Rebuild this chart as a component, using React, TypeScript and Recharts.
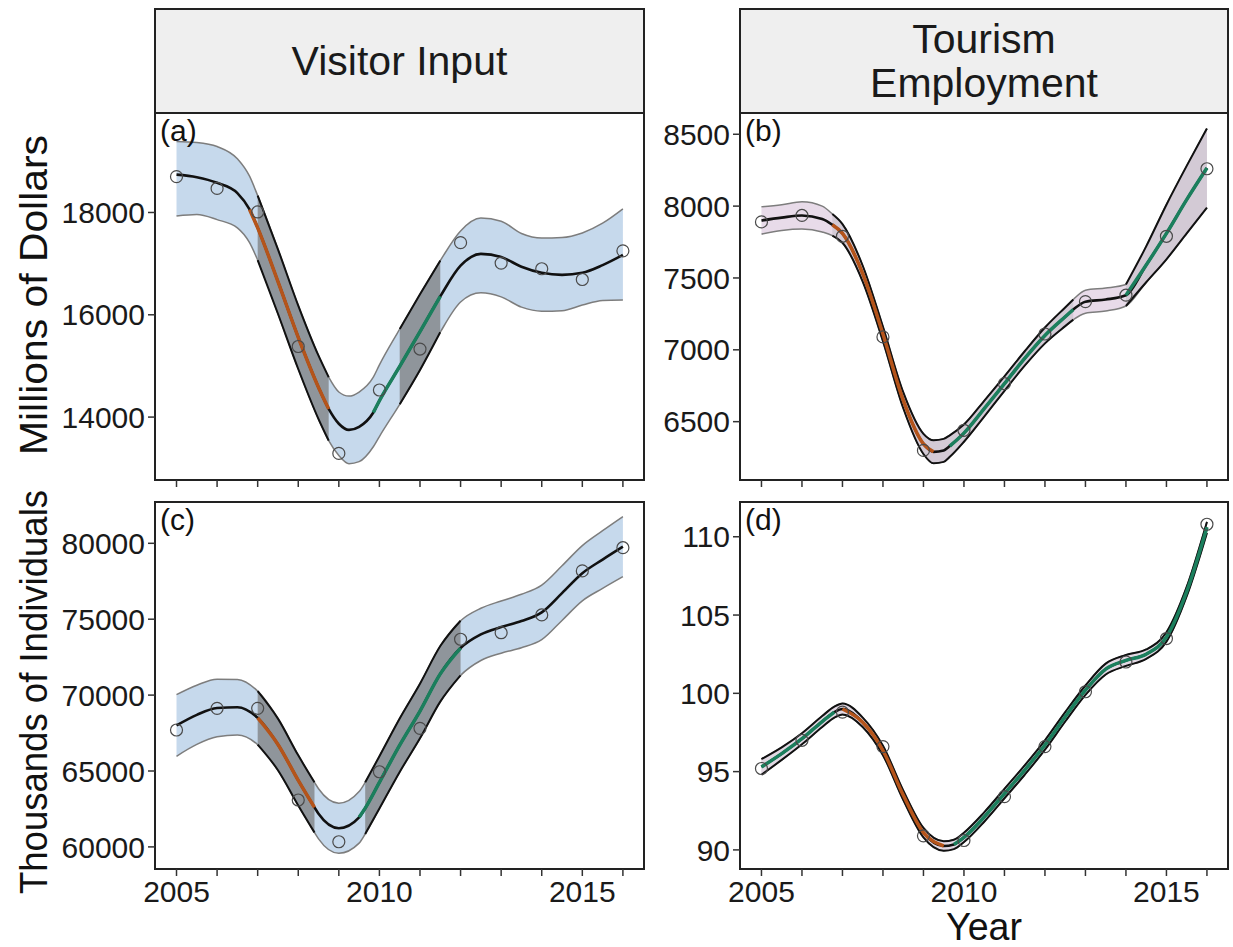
import { ComposedChart, Area, Line, Scatter, XAxis, YAxis, ReferenceArea } from 'recharts';

const FONT = '"Liberation Sans", Arial, Helvetica, sans-serif';

const YEARS = [2005, 2006, 2007, 2008, 2009, 2010, 2011, 2012, 2013, 2014, 2015, 2016];
const YEAR_LABELS = [2005, 2010, 2015];
const X_DOMAIN: [number, number] = [2004.47, 2016.52];

// (a) Visitor Input, millions of dollars
const aX = [2005, 2005.5, 2006, 2006.5, 2006.8, 2007, 2007.5, 2008, 2008.5, 2008.75, 2009, 2009.25, 2009.5, 2009.85, 2010, 2010.5, 2011, 2011.5, 2012, 2012.5, 2013, 2013.5, 2014, 2014.5, 2015, 2015.5, 2016];
const aFit = [18740, 18690, 18580, 18380, 18060, 17700, 16650, 15560, 14580, 14160, 13870, 13750, 13810, 14090, 14320, 14990, 15670, 16360, 16960, 17190, 17130, 16940, 16820, 16780, 16820, 16970, 17170];
const aLo = [17930, 17960, 17860, 17700, 17410, 17070, 16020, 14940, 13960, 13540, 13250, 13090, 13130, 13420, 13620, 14250, 14920, 15660, 16250, 16430, 16350, 16150, 16070, 16080, 16190, 16280, 16290];
const aHi = [19390, 19370, 19290, 19050, 18710, 18330, 17280, 16180, 15200, 14780, 14490, 14410, 14490, 14780, 15020, 15720, 16400, 17060, 17640, 17890, 17830, 17590, 17500, 17510, 17600, 17790, 18070];
const aObs = [18700, 18470, 18010, 15380, 13290, 14530, 15330, 17410, 17010, 16900, 16690, 17250];

// (b) Tourism Employment, millions of dollars
const bX = [2005, 2005.5, 2006, 2006.5, 2006.75, 2007, 2007.5, 2008, 2008.5, 2009, 2009.25, 2009.5, 2009.65, 2010, 2010.5, 2011, 2011.5, 2012, 2012.5, 2012.7, 2013, 2013.5, 2014, 2014.5, 2015, 2015.5, 2016];
const bFit = [7900, 7920, 7935, 7910, 7870, 7810, 7530, 7110, 6650, 6345, 6290, 6300, 6330, 6420, 6590, 6765, 6940, 7100, 7230, 7280, 7335, 7350, 7380, 7590, 7810, 8045, 8265];
const bLo = [7805, 7830, 7840, 7820, 7795, 7745, 7475, 7060, 6595, 6275, 6210, 6220, 6255, 6360, 6535, 6715, 6890, 7045, 7165, 7210, 7255, 7270, 7305, 7470, 7630, 7810, 7990];
const bHi = [7995, 8010, 8030, 8000, 7945, 7875, 7585, 7160, 6705, 6415, 6370, 6380, 6405, 6480, 6645, 6815, 6990, 7155, 7295, 7350, 7415, 7430, 7455, 7720, 8010, 8280, 8540];
const bObs = [7890, 7935, 7790, 7090, 6300, 6440, 6765, 7110, 7335, 7380, 7790, 8260];

// (c) Visitor Input, thousands of individuals
const cX = [2005, 2005.5, 2006, 2006.5, 2007, 2007.5, 2008, 2008.4, 2008.5, 2009, 2009.5, 2009.65, 2010, 2010.5, 2011, 2011.5, 2012, 2012.5, 2013, 2013.5, 2014, 2014.5, 2015, 2015.5, 2016];
const cFit = [68000, 68700, 69150, 69200, 68500, 66750, 64380, 62600, 62180, 61230, 61950, 62550, 64250, 66700, 68950, 71400, 73100, 74000, 74480, 74880, 75450, 76720, 78030, 78930, 79780];
const cLo = [65970, 66750, 67250, 67370, 66740, 65050, 62730, 60950, 60530, 59580, 60250, 60850, 62530, 64940, 67150, 69570, 71300, 72280, 72760, 73120, 73650, 74920, 76210, 77030, 77800];
const cHi = [70030, 70650, 71050, 71030, 70260, 68450, 66030, 64250, 63830, 62880, 63650, 64250, 65970, 68460, 70750, 73230, 74900, 75720, 76200, 76640, 77250, 78520, 79850, 80830, 81760];
const cObs = [67700, 69130, 69130, 63090, 60340, 64950, 67810, 73680, 74110, 75280, 78180, 79710];

// (d) Tourism Employment, thousands of individuals
const dX = [2005, 2005.5, 2006, 2006.5, 2006.8, 2007, 2007.5, 2008, 2008.5, 2009, 2009.5, 2009.75, 2010, 2010.5, 2011, 2011.5, 2012, 2012.5, 2013, 2013.5, 2014, 2014.5, 2015, 2015.5, 2016];
const dFit = [95.3, 96.15, 97.1, 98.2, 98.8, 99.0, 98.15, 96.35, 93.5, 91.1, 90.25, 90.35, 90.8, 92.1, 93.6, 95.1, 96.7, 98.5, 100.2, 101.55, 102.1, 102.5, 103.6, 106.5, 110.6];
const dLo = [94.8, 95.75, 96.75, 97.85, 98.45, 98.65, 97.85, 96.05, 93.2, 90.8, 89.95, 90.05, 90.5, 91.8, 93.3, 94.8, 96.4, 98.2, 99.9, 101.2, 101.75, 102.2, 103.3, 106.2, 110.25];
const dHi = [95.8, 96.55, 97.45, 98.55, 99.15, 99.35, 98.45, 96.65, 93.8, 91.4, 90.55, 90.65, 91.1, 92.4, 93.9, 95.4, 97.0, 98.8, 100.5, 101.9, 102.45, 102.8, 103.9, 106.8, 110.95];
const dObs = [95.2, 97.0, 98.8, 96.6, 90.9, 90.6, 93.4, 96.6, 100.1, 102.0, 103.5, 110.8];

type Range = [number, number];

interface PanelSpec {
  tag: string;
  x: number[];
  fit: number[];
  lo: number[];
  hi: number[];
  obs: number[];
  sigBand: Range[];
  down: Range[];
  up: Range[];
  yDomain: [number, number];
  yTicks: number[];
  bandFill: string;
  sigFill: string;
}

const BLUE = '#c6d9ec';
const LILAC = '#e8dbe9';
const ORANGE = '#b5541a';
const GREEN = '#1b7f5d';

const panels: Record<string, PanelSpec> = {
  a: {
    tag: '(a)', x: aX, fit: aFit, lo: aLo, hi: aHi, obs: aObs,
    sigBand: [[2007, 2008.75], [2010.5, 2011.5]],
    down: [[2006.8, 2008.75]], up: [[2009.85, 2011.5]],
    yDomain: [12770, 19945], yTicks: [14000, 16000, 18000],
    bandFill: BLUE, sigFill: '#8f959b',
  },
  b: {
    tag: '(b)', x: bX, fit: bFit, lo: bLo, hi: bHi, obs: bObs,
    sigBand: [[2006.75, 2012.7], [2014, 2016]],
    down: [[2006.75, 2009.25]], up: [[2009.65, 2012.7], [2014, 2016]],
    yDomain: [6094, 8648], yTicks: [6500, 7000, 7500, 8000, 8500],
    bandFill: LILAC, sigFill: '#d3cad5',
  },
  c: {
    tag: '(c)', x: cX, fit: cFit, lo: cLo, hi: cHi, obs: cObs,
    sigBand: [[2007, 2008.4], [2009.65, 2012]],
    down: [[2007, 2008.4]], up: [[2009.5, 2012]],
    yDomain: [58544, 82721], yTicks: [60000, 65000, 70000, 75000, 80000],
    bandFill: BLUE, sigFill: '#8f959b',
  },
  d: {
    tag: '(d)', x: dX, fit: dFit, lo: dLo, hi: dHi, obs: dObs,
    sigBand: [[2005, 2016]],
    down: [[2007, 2009.5]], up: [[2005, 2006.8], [2009.75, 2016]],
    yDomain: [88.78, 112.22], yTicks: [90, 95, 100, 105, 110],
    bandFill: LILAC, sigFill: '#e2d8e3',
  },
};

const inside = (x: number, ranges: Range[]) =>
  ranges.some(([s, e]) => x >= s - 1e-6 && x <= e + 1e-6);

const buildRows = (p: PanelSpec) =>
  p.x.map((x, i) => ({
    x,
    fit: p.fit[i],
    band: [p.lo[i], p.hi[i]],
    sig: inside(x, p.sigBand) ? [p.lo[i], p.hi[i]] : null,
    down: inside(x, p.down) ? p.fit[i] : null,
    up: inside(x, p.up) ? p.fit[i] : null,
  }));

const OpenCircle = (props: any) => {
  const { cx, cy } = props;
  if (cx == null || cy == null) return null;
  return <circle cx={cx} cy={cy} r={6} fill="none" stroke="#4a4a4a" strokeWidth={1.2} />;
};

const tickStyle = { fill: '#1a1a1a', fontSize: 30, fontFamily: FONT };

interface PanelProps {
  spec: PanelSpec;
  left: number;
  top: number;
  width: number;
  height: number;
  showYears: boolean;
}

const Panel = ({ spec, left, top, width, height, showYears }: PanelProps) => {
  const rows = buildRows(spec);
  const obs = YEARS.map((x, i) => ({ x, y: spec.obs[i] }));
  return (
    <div style={{ position: 'absolute', left: left - 110, top: top - 5 }}>
      <ComposedChart
        width={width + 115}
        height={height + 55}
        data={rows}
        margin={{ top: 5, right: 5, bottom: 0, left: 0 }}
      >
        <XAxis
          type="number"
          dataKey="x"
          domain={X_DOMAIN}
          ticks={YEARS}
          allowDataOverflow
          height={50}
          tickSize={7}
          tickMargin={5}
          interval={0}
          tick={tickStyle}
          tickLine={{ stroke: '#333', strokeWidth: 1.5 }}
          axisLine={{ stroke: '#222', strokeWidth: 2 }}
          tickFormatter={(v: number) => (showYears && YEAR_LABELS.includes(v) ? String(v) : '')}
        />
        <YAxis
          type="number"
          domain={spec.yDomain}
          ticks={spec.yTicks}
          allowDataOverflow
          width={110}
          tickSize={7}
          tickMargin={3}
          interval={0}
          tick={tickStyle}
          tickLine={{ stroke: '#333', strokeWidth: 1.5 }}
          axisLine={{ stroke: '#222', strokeWidth: 2 }}
        />
        <Area
          dataKey="band"
          type="monotone"
          fill={spec.bandFill}
          fillOpacity={1}
          stroke="#7d7d7d"
          strokeWidth={1.5}
          dot={false}
          activeDot={false}
          isAnimationActive={false}
        />
        <Area
          dataKey="sig"
          type="monotone"
          fill={spec.sigFill}
          fillOpacity={1}
          stroke="#111"
          strokeWidth={2}
          dot={false}
          activeDot={false}
          isAnimationActive={false}
        />
        <Line dataKey="fit" type="monotone" stroke="#111" strokeWidth={2.6} dot={false} activeDot={false} isAnimationActive={false} />
        <Line dataKey="down" type="monotone" stroke={ORANGE} strokeWidth={3.5} dot={false} activeDot={false} isAnimationActive={false} />
        <Line dataKey="up" type="monotone" stroke={GREEN} strokeWidth={3.5} dot={false} activeDot={false} isAnimationActive={false} />
        <Scatter data={obs} dataKey="y" shape={OpenCircle} isAnimationActive={false} />
        <ReferenceArea
          x1={X_DOMAIN[0]}
          x2={X_DOMAIN[1]}
          y1={spec.yDomain[0]}
          y2={spec.yDomain[1]}
          fill="none"
          stroke="#222"
          strokeWidth={2}
          ifOverflow="visible"
        />
      </ComposedChart>
      <div
        style={{
          position: 'absolute', left: 115, top: 8, fontFamily: FONT, fontSize: 30,
          color: '#111', lineHeight: '30px', pointerEvents: 'none',
        }}
      >
        {spec.tag}
      </div>
    </div>
  );
};

const Strip = ({ left, width, lines }: { left: number; width: number; lines: string[] }) => (
  <div
    style={{
      position: 'absolute', left, top: 8, width, height: 106, boxSizing: 'border-box',
      border: '2px solid #222', background: '#efefef', display: 'flex', flexDirection: 'column',
      alignItems: 'center', justifyContent: 'center', fontFamily: FONT, fontSize: 41,
      lineHeight: '44px', color: '#1a1a1a',
    }}
  >
    {lines.map((l) => (
      <div key={l}>{l}</div>
    ))}
  </div>
);

export default function App() {
  return (
    <div style={{ position: 'absolute', left: 0, top: 0, width: 1233, height: 947, background: '#fff', overflow: 'hidden' }}>
      <Strip left={154} width={491} lines={['Visitor Input']} />
      <Strip left={739} width={490} lines={['Tourism', 'Employment']} />
      <Panel spec={panels.a} left={155} top={113} width={489} height={367} showYears={false} />
      <Panel spec={panels.b} left={740} top={113} width={488} height={367} showYears={false} />
      <Panel spec={panels.c} left={155} top={502} width={489} height={367} showYears />
      <Panel spec={panels.d} left={740} top={502} width={488} height={367} showYears />
      <svg width={1233} height={947} style={{ position: 'absolute', left: 0, top: 0, pointerEvents: 'none' }}>
        <text
          transform="translate(33,295) rotate(-90)"
          textAnchor="middle"
          dominantBaseline="central"
          fontFamily={FONT}
          fontSize={39}
          fill="#111"
          textLength={320}
          lengthAdjust="spacingAndGlyphs"
        >
          Millions of Dollars
        </text>
        <text
          transform="translate(33,692) rotate(-90)"
          textAnchor="middle"
          dominantBaseline="central"
          fontFamily={FONT}
          fontSize={39}
          fill="#111"
          textLength={404}
          lengthAdjust="spacingAndGlyphs"
        >
          Thousands of Individuals
        </text>
        <text
          x={984}
          y={940}
          textAnchor="middle"
          fontFamily={FONT}
          fontSize={39}
          fill="#111"
          textLength={76}
          lengthAdjust="spacingAndGlyphs"
        >
          Year
        </text>
      </svg>
    </div>
  );
}
